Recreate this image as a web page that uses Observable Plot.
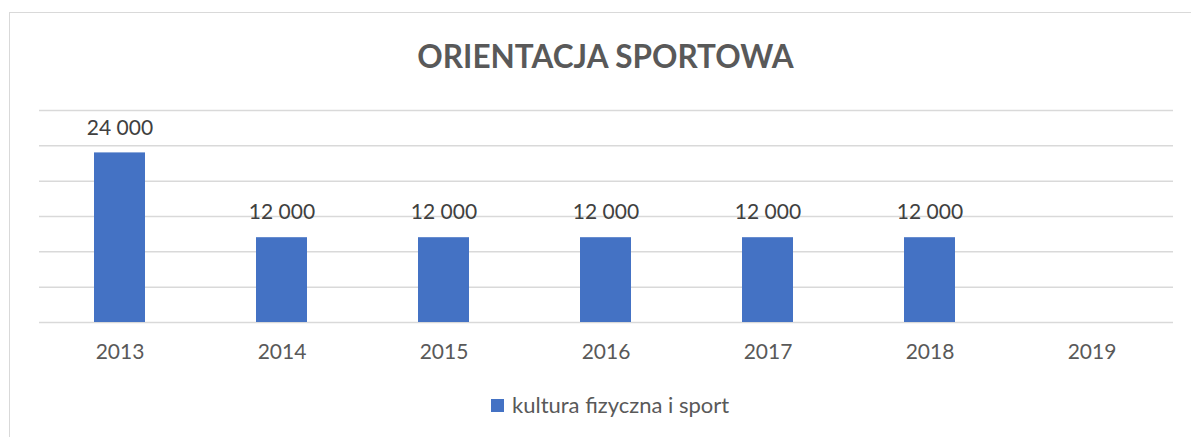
<!DOCTYPE html>
<html>
<head>
<meta charset="utf-8">
<script src="https://cdn.jsdelivr.net/npm/d3@7"></script>
<script src="https://cdn.jsdelivr.net/npm/@observablehq/plot@0.6"></script>
<style>
  html, body { margin: 0; padding: 0; background: #fff; }
  #wrap { position: relative; width: 1191px; height: 437px; overflow: hidden; font-family: Lato, "Open Sans", sans-serif; }
  #frame { position: absolute; left: 9px; top: 12px; width: 1200px; height: 440px; border: 1px solid #d9d9d9; box-sizing: border-box; }
  #title { position: absolute; left: 10px; width: 1191px; top: 36px; text-align: center; font-weight: 700; font-size: 31.5px; line-height: 40px; color: #595959; }
  #chart { position: absolute; left: 0; top: 90px; }
  #legend { position: absolute; left: 491px; top: 393px; display: flex; align-items: center; font-size: 22px; color: #595959; line-height: 24px; }
  #legend .sw { width: 13px; height: 13px; background: #4472C4; margin-right: 8px; }
</style>
</head>
<body>
<div id="wrap">
  <div id="frame"></div>
  <div id="title">ORIENTACJA SPORTOWA</div>
  <div id="chart"></div>
  <div id="legend"><div class="sw"></div><span>kultura fizyczna i sport</span></div>
</div>
<script>
const years = ["2013", "2014", "2015", "2016", "2017", "2018", "2019"];
const values = [24000, 12000, 12000, 12000, 12000, 12000, null];
const yTicks = [0, 5000, 10000, 15000, 20000, 25000, 30000];
const seriesName = "kultura fizyczna i sport";

const data = years.map((year, i) => ({year, value: values[i]}));
const shown = data.filter(d => d.value != null);
const fmt = d3.formatLocale({decimal: ",", thousands: "\u00a0", grouping: [3], currency: ["", ""]}).format(",");

const chart = Plot.plot({
  width: 1191,
  height: 290,
  marginLeft: 39,
  marginRight: 18,
  marginTop: 20,
  marginBottom: 58,
  style: {fontFamily: "Lato, 'Open Sans', sans-serif", background: "transparent"},
  x: {domain: years, paddingInner: 0.685, paddingOuter: 0.3425, label: null},
  y: {domain: [0, 30000], axis: null},
  marks: [
    Plot.ruleY(yTicks, {stroke: "#d9d9d9", strokeWidth: 1.5}),
    Plot.barY(shown, {x: "year", y: "value", fill: "#4472C4"}),
    Plot.text(shown, {x: "year", y: "value", text: d => fmt(d.value), dy: -25, fontSize: 21, fill: "#404040"}),
    Plot.axisX({tickSize: 0, tickPadding: 22, fontSize: 21, color: "#595959", label: null})
  ]
});
document.getElementById("chart").appendChild(chart);
</script>
</body>
</html>
